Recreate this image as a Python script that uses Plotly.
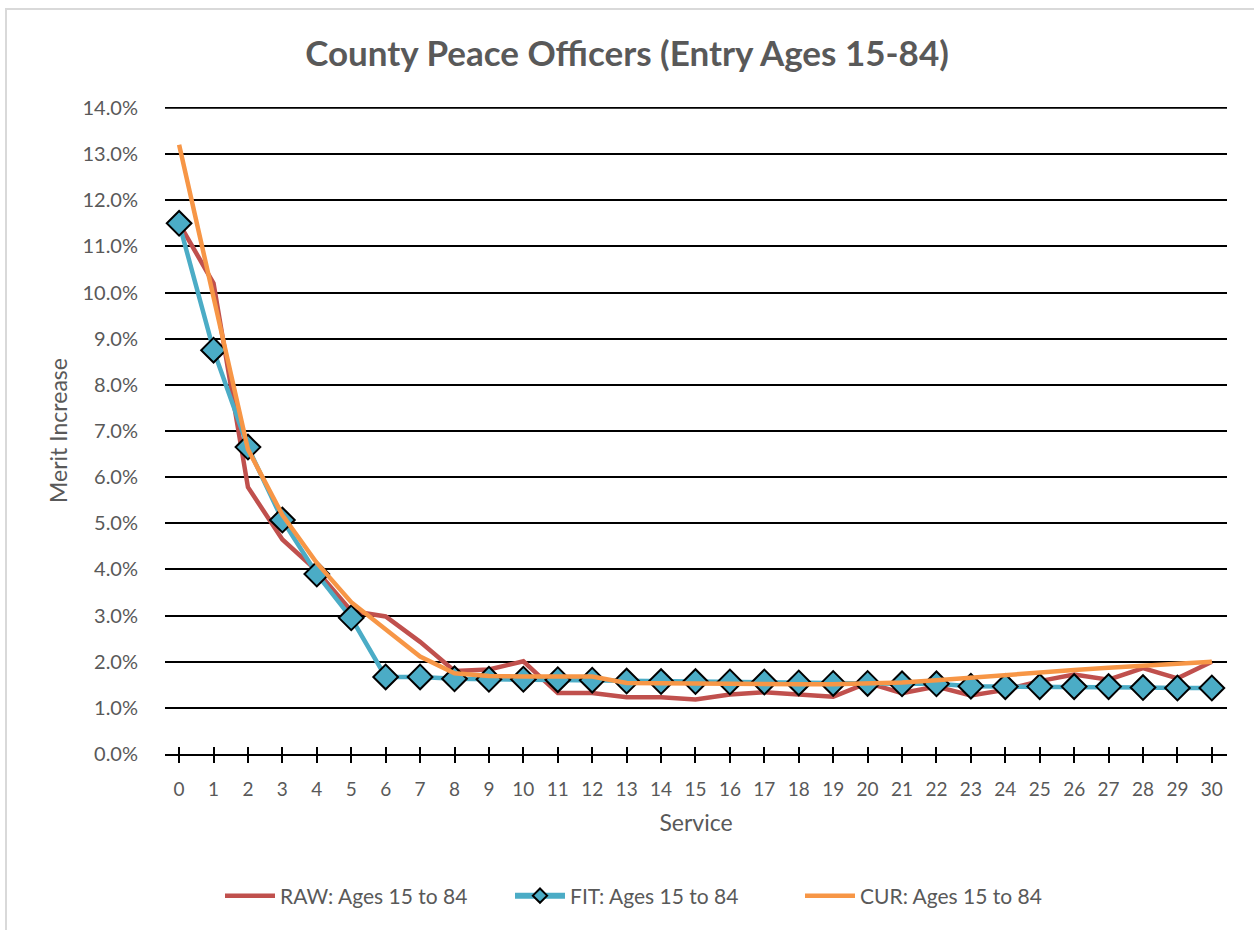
import plotly.graph_objects as go

# Years of service
service = list(range(0, 31))

# Merit increase rates (%)
raw = [11.5, 10.2, 5.78, 4.65, 3.97, 3.1, 2.98, 2.43, 1.8, 1.83, 2.01,
       1.32, 1.32, 1.23, 1.23, 1.18, 1.29, 1.34, 1.29, 1.24, 1.54,
       1.32, 1.46, 1.27, 1.39, 1.58, 1.72, 1.61, 1.86, 1.64, 2.0]
fit = [11.5, 8.75, 6.65, 5.07, 3.9, 2.95, 1.67, 1.67, 1.63, 1.62, 1.62,
       1.61, 1.6, 1.58, 1.57, 1.57, 1.56, 1.56, 1.54, 1.53, 1.53,
       1.52, 1.52, 1.47, 1.46, 1.46, 1.46, 1.46, 1.44, 1.43, 1.43]
cur = [13.2, 9.85, 6.6, 5.18, 4.14, 3.29, 2.7, 2.11, 1.75, 1.69, 1.68,
       1.68, 1.68, 1.54, 1.53, 1.53, 1.52, 1.52, 1.51, 1.51, 1.52,
       1.55, 1.6, 1.66, 1.71, 1.78, 1.82, 1.87, 1.92, 1.96, 2.0]

y_ticks = [float(v) for v in range(0, 15)]

FONT = "Lato"
GREY = "#595959"
RED, BLUE, ORANGE = "#C0504D", "#4BACC6", "#F79646"

fig = go.Figure()
fig.add_trace(go.Scatter(x=service, y=raw, mode="lines", name="RAW: Ages 15 to 84",
                         line=dict(color=RED, width=4.5)))
fig.add_trace(go.Scatter(x=service, y=fit, mode="lines+markers", name="FIT: Ages 15 to 84",
                         showlegend=False, legendgroup="fit",
                         line=dict(color=BLUE, width=4.5),
                         marker=dict(symbol="diamond", size=19, color=BLUE,
                                     line=dict(color="black", width=2))))
# legend entry for FIT with a smaller diamond
fig.add_trace(go.Scatter(x=[None], y=[None], mode="lines+markers", name="FIT: Ages 15 to 84",
                         legendgroup="fit",
                         line=dict(color=BLUE, width=6),
                         marker=dict(symbol="diamond", size=11, color=BLUE,
                                     line=dict(color="black", width=2))))
fig.add_trace(go.Scatter(x=service, y=cur, mode="lines", name="CUR: Ages 15 to 84",
                         line=dict(color=ORANGE, width=4.5)))
# invisible trace on the overlay axis so it renders its inward ticks
fig.add_trace(go.Scatter(x=[0], y=[0], xaxis="x2", mode="markers",
                         marker=dict(opacity=0), showlegend=False, hoverinfo="skip"))

W, H = 1254, 930
L, R, T, B = 165, 27, 107, 176
pw, ph = W - L - R, H - T - B
YMAX = 14.02

fig.update_layout(
    width=W, height=H,
    margin=dict(l=L, r=R, t=T, b=B),
    paper_bgcolor="white", plot_bgcolor="white",
    font=dict(family=FONT, color=GREY, size=20),
    title=dict(text="<b>County Peace Officers (Entry Ages 15-84)</b>",
               x=0.5, xanchor="center", y=1 - 54 / H, yanchor="middle",
               font=dict(size=35, color=GREY, family=FONT)),
    xaxis=dict(range=[-0.41, 30.44], tickmode="array", tickvals=service,
               ticks="outside", ticklen=7, tickwidth=1.5, tickcolor="black",
               showline=True, linecolor="black", linewidth=1.5,
               showgrid=False, zeroline=False, ticklabelstandoff=10,
               tickfont=dict(size=19, color=GREY),
               title=dict(text="Service", font=dict(size=23, color=GREY), standoff=16)),
    xaxis2=dict(range=[-0.41, 30.44], tickmode="array", tickvals=service,
                overlaying="x", anchor="y", side="bottom",
                ticks="inside", ticklen=7, tickwidth=1.5, tickcolor="black",
                showticklabels=False, showgrid=False, zeroline=False, showline=False),
    yaxis=dict(range=[0, YMAX], tickmode="array", tickvals=y_ticks,
               ticktext=[f"{v:.1f}%" for v in y_ticks],
               showgrid=True, gridcolor="black", gridwidth=1.8,
               zeroline=False, showline=False, ticks="",
               ticklabelstandoff=26,
               tickfont=dict(size=20, color=GREY),
               title=dict(text="Merit Increase", font=dict(size=23, color=GREY), standoff=8)),
    legend=dict(orientation="h", x=0.5 - 41 / pw, xanchor="center",
                y=-(896 - (T + ph)) / ph, yanchor="middle",
                font=dict(size=21, color=GREY), itemwidth=50,
                entrywidth=225, entrywidthmode="pixels",
                traceorder="normal", bgcolor="rgba(0,0,0,0)"),
    shapes=[
        # outer chart frame
        dict(type="rect", xref="paper", yref="paper",
             x0=(6 - L) / pw, x1=(W + 10 - L) / pw,
             y0=-(H + 10 - (T + ph)) / ph, y1=(T + ph - 9) / ph,
             line=dict(color="#D9D9D9", width=2), layer="below"),
        # top gridline at 14%
        dict(type="line", xref="paper", yref="y", x0=0, x1=1,
             y0=y_ticks[-1], y1=y_ticks[-1],
             line=dict(color="black", width=1.8), layer="below"),
    ],
)

fig.write_html("out.html")
